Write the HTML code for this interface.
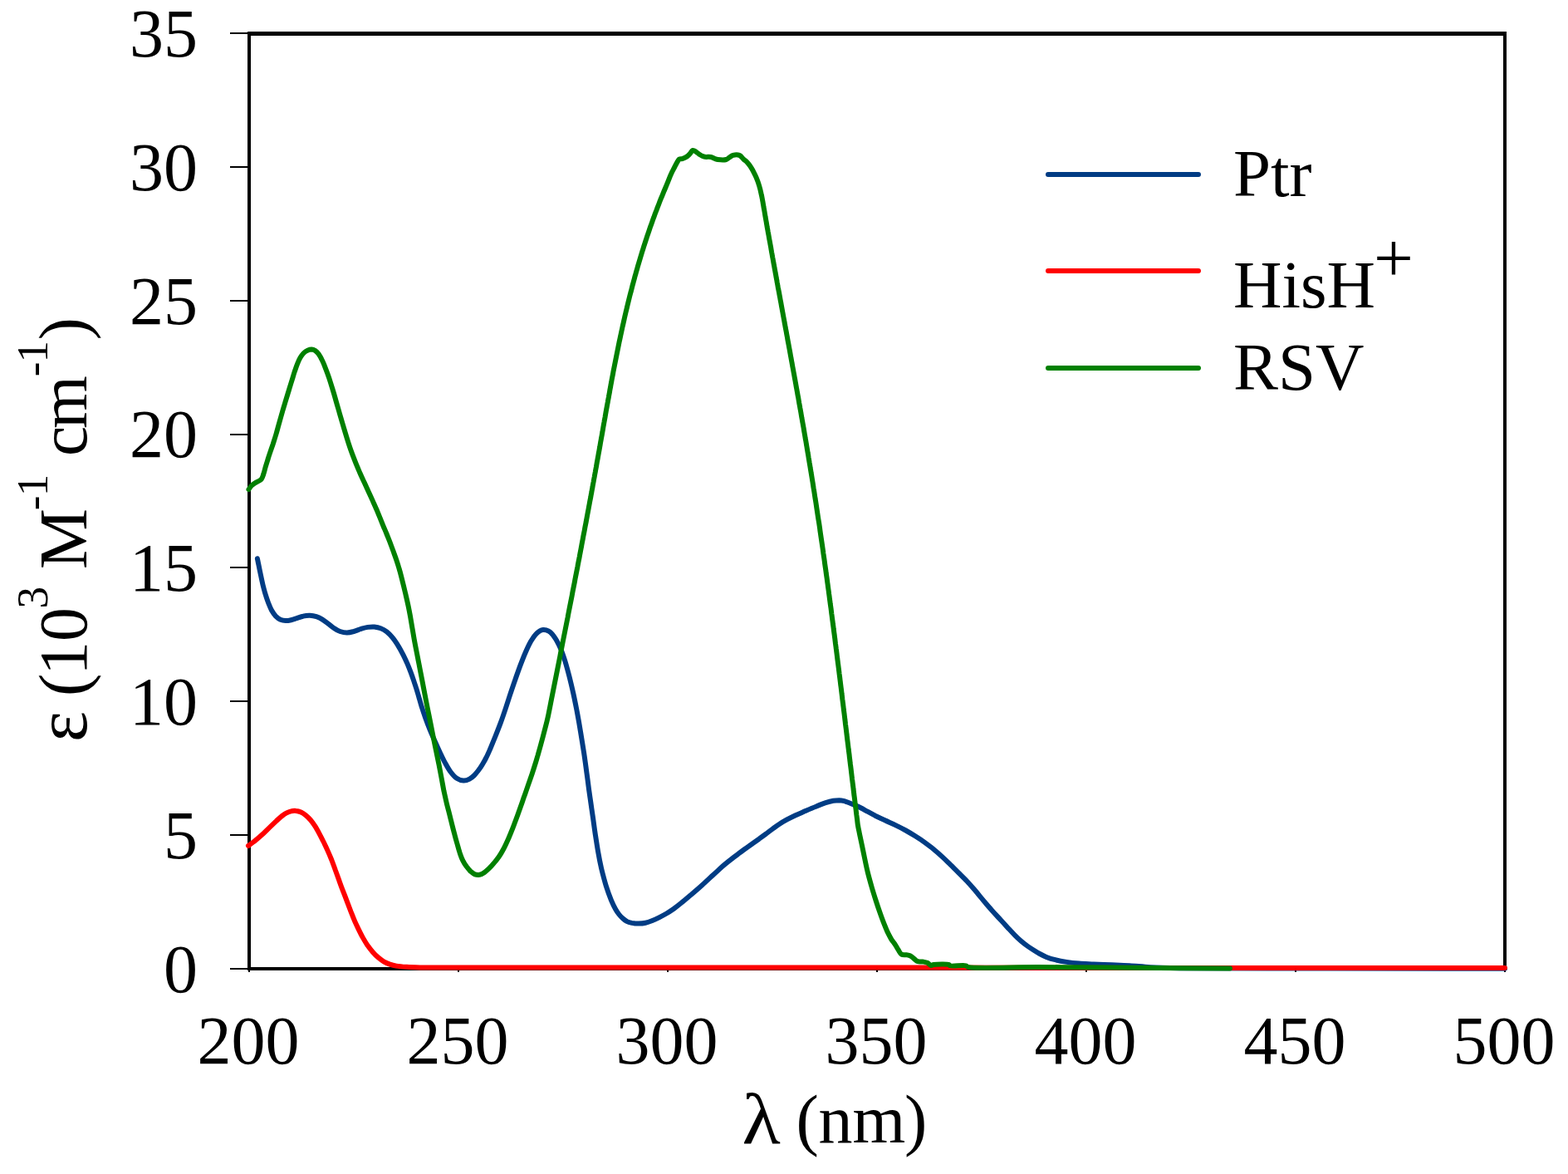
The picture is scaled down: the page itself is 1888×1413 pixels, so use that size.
<!DOCTYPE html>
<html><head><meta charset="utf-8"><style>
html,body{margin:0;padding:0;background:#fff;}
svg{display:block;}
</style></head><body>
<svg width="1888" height="1413" viewBox="0 0 1888 1413">
<rect width="1888" height="1413" fill="#fff"/>
<!-- frame -->
<rect x="298" y="38" width="1516" height="5" fill="#000"/>
<rect x="298" y="38" width="4" height="1130" fill="#000"/>
<rect x="1810" y="38" width="4" height="1130" fill="#000"/>
<rect x="298" y="1164" width="1516" height="4" fill="#000"/>
<rect x="277" y="1165" width="23" height="2" fill="#000"/>
<rect x="277" y="1004" width="23" height="2" fill="#000"/>
<rect x="277" y="843" width="23" height="2" fill="#000"/>
<rect x="277" y="682" width="23" height="2" fill="#000"/>
<rect x="277" y="522" width="23" height="2" fill="#000"/>
<rect x="277" y="361" width="23" height="2" fill="#000"/>
<rect x="277" y="200" width="23" height="2" fill="#000"/>
<rect x="277" y="39" width="23" height="2" fill="#000"/>
<rect x="299.0" y="1164" width="2" height="6" fill="#000"/>
<rect x="551.0" y="1164" width="2" height="6" fill="#000"/>
<rect x="803.0" y="1164" width="2" height="6" fill="#000"/>
<rect x="1055.0" y="1164" width="2" height="6" fill="#000"/>
<rect x="1307.0" y="1164" width="2" height="6" fill="#000"/>
<rect x="1559.0" y="1164" width="2" height="6" fill="#000"/>
<rect x="1811.0" y="1164" width="2" height="6" fill="#000"/>
<text x="238" y="1193.6" text-anchor="end" font-family="Liberation Serif, Times New Roman, serif" font-size="82">0</text>
<text x="238" y="1032.8" text-anchor="end" font-family="Liberation Serif, Times New Roman, serif" font-size="82">5</text>
<text x="238" y="872.0" text-anchor="end" font-family="Liberation Serif, Times New Roman, serif" font-size="82">10</text>
<text x="238" y="711.2" text-anchor="end" font-family="Liberation Serif, Times New Roman, serif" font-size="82">15</text>
<text x="238" y="550.4" text-anchor="end" font-family="Liberation Serif, Times New Roman, serif" font-size="82">20</text>
<text x="238" y="389.6" text-anchor="end" font-family="Liberation Serif, Times New Roman, serif" font-size="82">25</text>
<text x="238" y="228.8" text-anchor="end" font-family="Liberation Serif, Times New Roman, serif" font-size="82">30</text>
<text x="238" y="68.0" text-anchor="end" font-family="Liberation Serif, Times New Roman, serif" font-size="82">35</text>
<text x="299.0" y="1280" text-anchor="middle" font-family="Liberation Serif, Times New Roman, serif" font-size="82">200</text>
<text x="551.0" y="1280" text-anchor="middle" font-family="Liberation Serif, Times New Roman, serif" font-size="82">250</text>
<text x="803.0" y="1280" text-anchor="middle" font-family="Liberation Serif, Times New Roman, serif" font-size="82">300</text>
<text x="1055.0" y="1280" text-anchor="middle" font-family="Liberation Serif, Times New Roman, serif" font-size="82">350</text>
<text x="1307.0" y="1280" text-anchor="middle" font-family="Liberation Serif, Times New Roman, serif" font-size="82">400</text>
<text x="1559.0" y="1280" text-anchor="middle" font-family="Liberation Serif, Times New Roman, serif" font-size="82">450</text>
<text x="1811.0" y="1280" text-anchor="middle" font-family="Liberation Serif, Times New Roman, serif" font-size="82">500</text>
<text transform="translate(893.5,1376) scale(1.11,1)" font-family="Liberation Serif, Times New Roman, serif" font-size="86">λ</text>
<text y="1375" font-family="Liberation Serif, Times New Roman, serif" font-size="82"><tspan x="958.5">(</tspan><tspan x="985.5">nm</tspan><tspan x="1089">)</tspan></text>
<text transform="translate(104,890) rotate(-90)" font-family="Liberation Serif, Times New Roman, serif" font-size="82"><tspan x="-3" y="0" font-size="88">ε</tspan> <tspan x="51.9" y="0">(</tspan><tspan x="77.2" y="0">1</tspan><tspan x="117.9" y="0">0</tspan><tspan x="157.4" y="-47" font-size="53">3</tspan> <tspan x="205" y="0">M</tspan><tspan x="275.7" y="-45.7" font-size="53">-</tspan><tspan x="292.8" y="-47" font-size="53">1</tspan> <tspan x="341" y="0">c</tspan><tspan x="374" y="0">m</tspan><tspan x="436.8" y="-45.7" font-size="53">-</tspan><tspan x="453.5" y="-47" font-size="53">1</tspan><tspan x="480.5" y="0">)</tspan></text>
<!-- curves -->
<g fill="none" stroke-width="6" stroke-linejoin="round" stroke-linecap="round">
<path d="M309.9,672.3 C310.4,674.8 310.8,676.9 311.4,679.7 C312.1,683.3 313.0,687.8 313.9,691.9 C314.7,695.8 315.6,699.9 316.5,703.8 C317.4,707.5 318.4,711.1 319.4,714.7 C320.5,718.2 321.6,721.7 322.9,725.0 C324.2,728.3 325.4,731.6 327.0,734.5 C328.5,737.1 330.1,739.6 332.0,741.6 C333.7,743.3 335.6,744.8 337.7,745.8 C339.6,746.6 341.7,747.0 343.9,747.1 C346.0,747.2 348.3,746.7 350.5,746.2 C352.8,745.7 355.1,744.8 357.5,744.0 C359.9,743.3 362.3,742.2 364.9,741.7 C367.5,741.1 370.4,740.7 373.1,740.8 C375.7,740.9 378.5,741.4 381.0,742.2 C383.5,743.0 385.9,744.2 388.2,745.6 C390.6,747.1 392.8,749.0 395.1,750.7 C397.4,752.4 399.7,754.5 402.1,756.0 C404.4,757.6 406.9,759.1 409.5,760.0 C412.1,760.9 414.9,761.5 417.7,761.5 C420.4,761.4 423.3,760.7 426.0,760.0 C428.8,759.2 431.6,757.9 434.4,757.0 C437.1,756.2 439.9,755.3 442.7,754.9 C445.4,754.5 448.1,754.3 450.7,754.5 C453.3,754.8 456.0,755.3 458.4,756.2 C461.0,757.2 463.4,758.6 465.7,760.4 C468.2,762.4 470.6,765.0 472.8,767.7 C475.2,770.6 477.4,774.0 479.5,777.3 C481.6,780.6 483.4,784.2 485.2,787.7 C487.0,791.2 488.6,794.7 490.2,798.2 C491.7,801.8 493.1,805.3 494.5,808.9 C495.8,812.4 497.1,816.1 498.3,819.6 C499.4,823.0 500.5,826.2 501.5,829.4 C502.5,832.6 503.3,835.5 504.3,838.8 C505.3,842.3 506.3,846.0 507.5,850.0 C508.9,854.3 510.4,859.0 512.1,863.7 C513.8,868.5 515.8,873.7 517.7,878.5 C519.6,883.2 521.7,887.8 523.7,892.3 C525.7,896.7 527.6,900.9 529.6,905.2 C531.6,909.4 533.6,913.8 535.8,917.9 C537.9,921.7 540.0,925.7 542.5,929.0 C544.8,932.0 547.2,935.0 550.0,936.8 C552.4,938.4 555.4,939.5 558.1,939.5 C560.5,939.6 563.2,938.7 565.3,937.6 C567.4,936.5 569.2,934.9 571.0,933.2 C572.8,931.5 574.4,929.4 576.0,927.3 C577.7,925.0 579.4,922.6 580.9,920.0 C582.5,917.4 584.0,914.8 585.4,911.9 C587.1,908.7 588.6,905.2 590.3,901.3 C592.2,896.8 594.3,891.5 596.4,886.4 C598.6,880.9 600.9,875.1 603.0,869.4 C605.1,863.8 607.0,858.1 608.9,852.4 C610.8,846.7 612.5,841.1 614.4,835.4 C616.3,829.8 618.2,824.1 620.2,818.5 C622.1,812.9 624.1,807.4 626.1,801.9 C628.1,796.6 630.1,791.3 632.3,786.2 C634.4,781.3 636.6,776.4 639.0,772.2 C641.3,768.5 643.6,764.6 646.3,762.2 C648.5,760.2 651.0,758.3 653.5,758.0 C655.8,757.6 658.5,758.4 660.7,759.7 C663.3,761.1 665.6,764.0 667.7,766.9 C670.2,770.2 672.3,774.6 674.3,779.0 C676.5,783.9 678.4,789.5 680.2,795.1 C682.1,801.2 683.8,807.7 685.5,814.2 C687.2,821.0 688.9,828.0 690.4,835.0 C692.0,842.2 693.4,849.5 694.9,857.1 C696.4,865.0 697.8,873.1 699.1,881.3 C700.5,889.7 701.9,898.4 703.2,906.8 C704.4,914.8 705.5,923.0 706.5,930.6 C707.5,937.5 708.3,944.1 709.1,950.4 C709.9,956.2 710.7,961.4 711.5,967.0 C712.3,972.8 713.1,978.4 714.0,984.3 C714.9,990.7 715.8,997.6 716.8,1004.3 C717.9,1011.1 718.9,1018.1 720.1,1025.0 C721.3,1031.9 722.6,1038.7 724.2,1045.6 C725.9,1052.5 727.8,1059.8 729.8,1066.3 C731.7,1072.3 733.9,1078.4 735.9,1083.3 C737.6,1087.3 739.2,1090.8 741.0,1093.9 C742.4,1096.4 743.7,1098.5 745.3,1100.5 C746.7,1102.3 748.2,1103.9 749.8,1105.3 C751.3,1106.7 752.8,1107.9 754.6,1108.9 C756.4,1109.8 758.6,1110.4 760.8,1110.9 C763.3,1111.4 766.2,1111.6 768.9,1111.6 C771.7,1111.6 774.5,1111.4 777.2,1110.8 C780.0,1110.2 782.8,1109.1 785.5,1108.0 C788.3,1106.9 791.2,1105.5 794.0,1104.1 C796.9,1102.6 799.7,1101.1 802.5,1099.5 C805.4,1097.8 808.1,1096.0 811.0,1094.0 C814.1,1091.7 817.3,1089.2 820.6,1086.5 C824.4,1083.5 828.5,1079.9 832.6,1076.5 C836.8,1072.8 841.2,1069.0 845.5,1065.2 C849.8,1061.4 854.1,1057.3 858.2,1053.5 C862.2,1049.9 866.2,1046.1 869.9,1042.8 C873.2,1039.9 876.4,1037.4 879.6,1034.8 C882.5,1032.5 885.4,1030.3 888.4,1028.2 C891.2,1026.0 894.1,1023.9 897.0,1021.8 C899.8,1019.7 902.7,1017.7 905.5,1015.7 C908.3,1013.7 911.2,1011.7 914.0,1009.7 C916.8,1007.6 919.7,1005.5 922.5,1003.5 C925.3,1001.3 928.2,999.1 931.0,997.1 C933.7,995.1 936.2,993.2 939.0,991.5 C941.6,989.8 944.2,988.3 947.1,986.7 C950.3,985.0 953.8,983.2 957.4,981.5 C961.3,979.7 965.6,977.9 969.7,976.1 C973.9,974.3 978.3,972.4 982.5,970.8 C986.5,969.1 990.5,967.4 994.2,966.2 C997.4,965.1 1000.6,964.2 1003.4,963.7 C1005.9,963.3 1008.1,963.2 1010.4,963.2 C1012.5,963.3 1014.5,963.7 1016.6,964.2 C1018.8,964.8 1020.9,965.7 1023.1,966.5 C1025.4,967.4 1027.6,968.3 1029.9,969.3 C1032.2,970.3 1034.5,971.3 1036.8,972.5 C1039.2,973.7 1041.6,975.2 1044.3,976.6 C1047.2,978.2 1050.4,980.0 1053.7,981.7 C1057.4,983.5 1061.5,985.4 1065.5,987.2 C1069.6,989.2 1074.0,991.0 1078.2,993.1 C1082.4,995.1 1086.6,997.3 1090.6,999.5 C1094.5,1001.7 1098.2,1003.9 1102.0,1006.3 C1105.7,1008.6 1109.4,1011.0 1113.0,1013.6 C1116.7,1016.3 1120.5,1019.1 1124.0,1022.0 C1127.6,1024.9 1131.0,1028.0 1134.4,1031.1 C1137.8,1034.1 1141.0,1037.4 1144.3,1040.6 C1147.7,1043.9 1151.1,1047.3 1154.4,1050.6 C1157.7,1053.9 1161.1,1057.2 1164.2,1060.5 C1167.1,1063.6 1169.8,1066.7 1172.5,1069.8 C1175.0,1072.7 1177.4,1075.6 1179.8,1078.6 C1182.3,1081.5 1184.7,1084.5 1187.2,1087.5 C1189.7,1090.4 1192.2,1093.3 1194.8,1096.2 C1197.3,1099.0 1199.9,1101.8 1202.3,1104.4 C1204.6,1106.9 1206.9,1109.3 1209.1,1111.7 C1211.2,1114.0 1213.2,1116.3 1215.3,1118.6 C1217.5,1121.0 1219.8,1123.5 1222.2,1125.9 C1224.5,1128.3 1227.1,1130.6 1229.6,1132.8 C1232.0,1134.9 1234.5,1136.8 1237.1,1138.6 C1239.5,1140.3 1242.0,1141.9 1244.5,1143.5 C1247.0,1145.1 1249.4,1146.6 1252.0,1148.0 C1254.6,1149.4 1257.1,1150.7 1260.0,1151.9 C1263.3,1153.2 1266.8,1154.3 1270.6,1155.2 C1274.9,1156.3 1279.7,1157.2 1284.4,1157.9 C1289.3,1158.6 1294.1,1159.1 1299.3,1159.5 C1304.9,1160.0 1310.8,1160.1 1316.9,1160.4 C1323.8,1160.7 1331.4,1161.0 1338.5,1161.2 C1345.7,1161.5 1352.6,1161.7 1360.0,1162.2 C1368.0,1162.7 1376.0,1163.7 1385.0,1164.2 C1395.7,1164.8 1403.8,1165.0 1420.0,1165.3 C1456.7,1165.9 1537.5,1165.5 1600.0,1165.6 C1667.8,1165.7 1741.3,1165.7 1812.0,1165.8" stroke="#003C84"/>
<path d="M299.0,1018.0 C301.0,1016.5 303.0,1015.0 304.9,1013.5 C306.6,1012.2 308.2,1010.9 309.9,1009.6 C311.6,1008.1 313.3,1006.7 315.1,1005.1 C317.0,1003.4 318.9,1001.5 320.8,999.6 C322.7,997.7 324.7,995.7 326.7,993.8 C328.7,991.9 330.7,990.0 332.7,988.1 C334.6,986.3 336.6,984.4 338.6,982.8 C340.6,981.3 342.5,979.8 344.6,978.7 C346.5,977.7 348.5,976.8 350.5,976.4 C352.4,975.9 354.5,975.7 356.4,975.9 C358.4,976.0 360.5,976.6 362.4,977.5 C364.4,978.4 366.4,979.8 368.3,981.3 C370.3,982.9 372.2,984.9 374.0,987.0 C375.9,989.2 377.6,991.7 379.2,994.2 C381.0,996.9 382.6,999.9 384.2,1002.9 C385.9,1006.0 387.5,1009.2 389.2,1012.5 C390.9,1015.9 392.5,1019.3 394.1,1022.9 C395.8,1026.7 397.5,1030.6 399.1,1034.5 C400.7,1038.7 402.3,1042.9 403.8,1047.2 C405.4,1051.4 406.8,1055.7 408.4,1059.9 C409.9,1064.2 411.4,1068.4 413.1,1072.6 C414.7,1076.8 416.4,1081.1 418.0,1085.3 C419.6,1089.5 421.2,1093.7 422.7,1097.7 C424.2,1101.5 425.6,1105.1 427.1,1108.7 C428.6,1112.1 430.2,1115.3 431.8,1118.6 C433.4,1121.9 435.0,1125.2 436.8,1128.4 C438.6,1131.6 440.5,1134.8 442.5,1137.8 C444.5,1140.6 446.7,1143.4 448.9,1145.9 C451.0,1148.3 453.1,1150.5 455.4,1152.4 C457.6,1154.2 459.7,1155.9 462.1,1157.3 C464.4,1158.6 466.9,1159.7 469.4,1160.6 C472.0,1161.5 474.4,1162.1 477.4,1162.6 C481.0,1163.2 485.2,1163.5 489.6,1163.8 C494.6,1164.1 497.5,1164.2 505.9,1164.4 C535.0,1164.9 623.7,1164.5 700.0,1164.5 C809.5,1164.5 976.2,1164.5 1100.0,1164.6 C1207.2,1164.7 1292.1,1164.9 1400.0,1165.0 C1526.5,1165.1 1674.7,1165.0 1812.0,1165.0" stroke="#FF0000"/>
<path d="M299.5,589.0 C300.6,587.5 301.6,585.8 302.9,584.5 C304.1,583.3 305.5,582.4 306.9,581.5 C308.3,580.6 310.0,580.0 311.4,579.1 C312.6,578.3 313.9,577.8 314.8,576.6 C316.0,575.1 316.5,572.8 317.3,570.6 C318.2,567.9 318.9,564.7 319.8,561.7 C320.7,558.5 321.8,555.2 322.8,552.0 C323.7,549.0 324.7,546.1 325.7,543.1 C326.7,540.2 327.7,537.4 328.8,534.2 C329.9,530.7 331.1,527.0 332.3,523.0 C333.6,518.7 334.8,513.9 336.1,509.4 C337.4,504.7 338.8,499.9 340.1,495.2 C341.4,490.7 342.8,486.2 344.1,481.9 C345.4,477.7 346.7,473.5 347.9,469.5 C349.1,465.6 350.2,461.8 351.4,458.1 C352.5,454.6 353.5,451.1 354.6,447.7 C355.7,444.5 356.7,441.2 357.9,438.3 C359.0,435.5 360.1,432.8 361.5,430.5 C362.8,428.4 364.1,426.5 365.6,425.0 C367.0,423.6 368.7,422.5 370.3,421.8 C371.9,421.1 373.6,420.6 375.2,420.6 C376.7,420.7 378.3,421.3 379.7,422.1 C381.3,423.1 382.6,424.7 383.9,426.4 C385.2,428.2 386.3,430.3 387.4,432.6 C388.7,435.0 389.7,437.6 390.8,440.3 C392.0,443.3 393.2,446.4 394.3,449.6 C395.5,452.9 396.7,456.4 397.8,459.8 C398.9,463.3 400.0,466.9 401.1,470.5 C402.2,474.2 403.3,477.9 404.3,481.6 C405.4,485.4 406.5,489.2 407.6,493.0 C408.6,496.7 409.7,500.5 410.8,504.2 C411.9,507.9 413.0,511.6 414.1,515.3 C415.2,519.1 416.3,522.7 417.5,526.7 C418.8,531.1 420.3,535.7 421.9,540.3 C423.7,545.4 425.9,551.1 427.9,556.2 C429.7,560.8 431.7,565.3 433.5,569.5 C435.2,573.4 436.9,576.9 438.6,580.6 C440.3,584.3 442.0,588.0 443.7,591.7 C445.4,595.3 447.1,599.0 448.7,602.6 C450.3,606.2 451.9,609.7 453.4,613.2 C454.8,616.7 456.2,620.1 457.6,623.4 C458.9,626.7 460.2,629.9 461.5,633.1 C462.8,636.2 464.2,639.3 465.5,642.5 C466.8,645.8 468.2,649.1 469.5,652.5 C470.8,655.9 472.1,659.5 473.4,663.1 C474.7,666.7 476.1,670.4 477.3,674.0 C478.5,677.5 479.6,681.0 480.6,684.5 C481.6,687.7 482.4,690.7 483.2,694.0 C484.0,697.2 484.8,700.4 485.7,703.9 C486.6,707.7 487.6,711.9 488.6,716.0 C489.6,720.4 490.7,725.0 491.6,729.4 C492.5,733.7 493.3,738.0 494.1,742.2 C494.8,746.4 495.5,750.5 496.2,754.7 C496.9,758.8 497.6,762.9 498.3,767.0 C499.0,771.2 499.8,775.3 500.6,779.4 C501.4,783.6 502.3,787.9 503.1,792.1 C503.9,796.4 504.8,800.6 505.6,805.0 C506.5,809.5 507.4,814.1 508.3,818.9 C509.3,824.1 510.3,829.5 511.4,835.1 C512.5,840.9 513.7,847.0 514.9,853.0 C516.1,858.9 517.3,864.9 518.5,870.8 C519.6,876.5 520.7,882.0 521.8,887.6 C522.9,893.2 524.1,898.7 525.2,904.2 C526.3,909.7 527.5,915.2 528.6,920.6 C529.6,925.9 530.6,931.2 531.6,936.5 C532.6,941.7 533.5,947.0 534.5,952.2 C535.6,957.1 536.7,962.0 537.8,966.8 C538.9,971.3 540.1,975.8 541.2,980.1 C542.2,984.3 543.3,988.4 544.3,992.5 C545.3,996.5 546.3,1000.5 547.4,1004.4 C548.4,1008.3 549.5,1012.3 550.6,1016.0 C551.6,1019.7 552.6,1023.3 553.7,1026.7 C554.8,1029.8 555.8,1032.9 557.2,1035.6 C558.5,1038.2 560.0,1040.6 561.6,1042.8 C563.2,1044.9 564.8,1047.0 566.6,1048.7 C568.2,1050.1 569.9,1051.7 571.8,1052.4 C573.5,1053.0 575.6,1053.1 577.5,1052.8 C579.5,1052.4 581.5,1051.2 583.4,1049.9 C585.5,1048.5 587.4,1046.6 589.4,1044.7 C591.4,1042.7 593.4,1040.4 595.3,1038.1 C597.3,1035.8 599.2,1033.3 601.0,1030.7 C602.9,1028.0 604.6,1025.0 606.2,1022.0 C607.9,1018.9 609.4,1015.6 610.9,1012.3 C612.4,1009.1 613.8,1005.7 615.1,1002.4 C616.5,999.0 617.8,995.7 619.1,992.2 C620.4,988.7 621.8,985.2 623.1,981.6 C624.4,977.9 625.7,974.2 627.0,970.5 C628.4,966.7 629.6,963.0 631.0,959.1 C632.5,954.8 634.1,950.4 635.6,945.9 C637.3,941.1 639.1,935.9 640.7,931.2 C642.1,927.0 643.4,922.9 644.6,919.0 C645.7,915.5 646.6,912.3 647.6,909.0 C648.5,905.7 649.4,902.5 650.4,899.0 C651.5,895.1 652.6,890.8 653.8,886.5 C655.0,881.9 656.4,876.6 657.5,872.3 C658.4,868.9 659.1,865.6 659.8,862.8 C660.3,860.6 660.6,858.8 661.0,856.8 C661.4,854.8 661.8,852.8 662.2,850.8 C662.6,848.7 663.0,846.7 663.4,844.7 C663.8,842.7 664.2,840.7 664.6,838.7 C665.0,836.7 665.4,834.7 665.8,832.7 C666.2,830.7 666.6,828.7 667.0,826.7 C667.4,824.7 667.8,822.7 668.2,820.7 C668.6,818.7 669.0,816.7 669.4,814.7 C669.8,812.7 670.2,810.6 670.6,808.6 C671.0,806.6 671.4,804.6 671.8,802.6 C672.2,800.6 672.6,798.6 673.0,796.6 C673.4,794.6 673.8,792.6 674.2,790.6 C674.6,788.6 674.9,786.6 675.3,784.6 C675.7,782.6 676.1,780.6 676.5,778.6 C676.9,776.6 677.3,774.6 677.7,772.5 C678.1,770.5 678.5,768.5 678.9,766.5 C679.3,764.5 679.7,762.5 680.1,760.5 C680.5,758.5 680.9,756.5 681.3,754.5 C681.7,752.5 682.1,750.5 682.5,748.5 C682.9,746.5 683.3,744.5 683.7,742.5 C684.0,740.5 684.4,738.5 684.8,736.5 C685.2,734.4 685.6,732.4 686.0,730.4 C686.4,728.4 686.8,726.4 687.2,724.4 C687.6,722.4 688.0,720.4 688.4,718.4 C688.8,716.4 689.1,714.4 689.5,712.4 C689.9,710.4 690.3,708.4 690.7,706.4 C691.1,704.4 691.5,702.4 691.9,700.4 C692.3,698.3 692.6,696.3 693.0,694.3 C693.4,692.3 693.8,690.3 694.2,688.3 C694.6,686.3 695.0,684.3 695.4,682.3 C695.7,680.3 696.1,678.3 696.5,676.3 C696.9,674.3 697.3,672.3 697.7,670.3 C698.0,668.3 698.4,666.3 698.8,664.3 C699.2,662.3 699.6,660.2 700.0,658.2 C700.3,656.2 700.7,654.2 701.1,652.2 C701.5,650.2 701.9,648.2 702.2,646.2 C702.6,644.2 703.0,642.2 703.4,640.2 C703.8,638.2 704.1,636.2 704.5,634.2 C704.9,632.2 705.3,630.2 705.7,628.2 C706.0,626.2 706.4,624.2 706.8,622.1 C707.2,620.1 707.5,618.1 707.9,616.1 C708.3,614.1 708.7,612.1 709.0,610.1 C709.4,608.1 709.8,606.1 710.1,604.1 C710.5,602.1 710.9,600.1 711.3,598.1 C711.6,596.1 712.0,594.1 712.4,592.1 C712.7,590.1 713.1,588.1 713.5,586.1 C713.8,584.0 714.2,582.0 714.6,580.0 C714.9,578.0 715.3,576.0 715.7,574.0 C716.0,572.0 716.4,570.0 716.8,568.0 C717.1,566.0 717.5,564.0 717.9,562.0 C718.2,560.0 718.6,558.0 718.9,556.0 C719.3,554.0 719.7,552.0 720.0,550.0 C720.4,548.0 720.7,545.9 721.1,543.9 C721.5,541.9 721.8,539.9 722.2,537.9 C722.5,535.9 722.9,533.9 723.2,531.9 C723.6,529.9 723.9,527.9 724.3,525.9 C724.7,523.9 725.0,521.9 725.4,519.9 C725.7,517.9 726.1,515.9 726.4,513.9 C726.8,511.9 727.1,509.9 727.5,507.8 C727.8,505.8 728.2,503.8 728.6,501.8 C728.9,499.8 729.3,497.8 729.6,495.8 C730.0,493.8 730.3,491.8 730.7,489.8 C731.1,487.8 731.4,485.8 731.8,483.8 C732.1,481.8 732.5,479.8 732.9,477.8 C733.2,475.8 733.6,473.8 734.0,471.8 C734.3,469.7 734.7,467.7 735.1,465.7 C735.4,463.7 735.8,461.7 736.2,459.7 C736.5,457.7 736.9,455.7 737.3,453.7 C737.7,451.7 738.1,449.7 738.4,447.7 C738.8,445.7 739.2,443.7 739.6,441.7 C740.0,439.7 740.4,437.7 740.8,435.7 C741.2,433.7 741.6,431.6 742.0,429.6 C742.4,427.6 742.8,425.6 743.2,423.6 C743.6,421.6 744.0,419.6 744.4,417.6 C744.8,415.6 745.2,413.6 745.6,411.6 C746.1,409.6 746.5,407.6 746.9,405.6 C747.3,403.6 747.8,401.6 748.2,399.6 C748.6,397.6 749.1,395.5 749.5,393.5 C750.0,391.5 750.4,389.5 750.9,387.5 C751.3,385.5 751.8,383.5 752.2,381.5 C752.7,379.5 753.2,377.5 753.6,375.5 C754.1,373.5 754.6,371.5 755.1,369.5 C755.5,367.5 756.0,365.5 756.5,363.5 C757.0,361.5 757.5,359.5 758.0,357.4 C758.5,355.4 759.0,353.4 759.6,351.4 C760.1,349.4 760.6,347.4 761.1,345.4 C761.6,343.4 762.2,341.4 762.7,339.4 C763.3,337.4 763.8,335.4 764.3,333.4 C764.9,331.4 765.5,329.4 766.0,327.4 C766.6,325.4 767.2,323.4 767.7,321.4 C768.3,319.3 768.9,317.3 769.5,315.3 C770.1,313.3 770.7,311.3 771.3,309.3 C771.9,307.3 772.5,305.3 773.1,303.3 C773.8,301.3 774.4,299.3 775.0,297.3 C775.7,295.3 776.3,293.3 777.0,291.3 C777.6,289.3 778.3,287.3 778.9,285.3 C779.6,283.3 780.3,281.2 781.0,279.2 C781.7,277.2 782.3,275.2 783.0,273.2 C783.8,271.2 784.5,269.2 785.2,267.2 C785.9,265.2 786.6,263.2 787.4,261.2 C788.1,259.2 788.8,257.2 789.6,255.2 C790.4,253.2 791.1,251.2 791.9,249.2 C792.7,247.2 793.5,245.2 794.2,243.1 C795.0,241.1 795.8,239.1 796.7,237.1 C797.5,235.1 798.3,233.1 799.1,231.1 C800.0,229.1 800.8,227.1 801.7,225.0 C802.5,222.9 803.4,220.8 804.2,218.8 C805.0,216.8 805.8,214.8 806.6,212.8 C807.4,211.0 808.2,209.2 809.0,207.4 C809.8,205.8 810.7,204.2 811.5,202.7 C812.2,201.2 813.0,199.7 813.7,198.3 C814.4,197.0 815.1,195.7 815.8,194.5 C816.5,193.4 817.0,192.1 817.9,191.5 C818.8,191.0 820.2,191.4 821.3,191.1 C822.5,190.8 823.6,190.3 824.7,189.8 C825.9,189.2 827.0,188.5 828.1,187.7 C829.2,186.8 830.1,185.8 831.1,184.7 C832.1,183.5 832.9,181.2 834.0,180.9 C834.8,180.7 835.7,181.4 836.6,181.8 C837.6,182.3 838.6,183.2 839.6,183.9 C840.6,184.6 841.6,185.4 842.5,186.0 C843.4,186.6 844.0,187.1 845.0,187.5 C846.2,188.0 847.5,188.5 849.0,188.8 C851.0,189.1 853.8,188.6 855.9,189.0 C857.8,189.4 859.5,190.6 861.0,191.1 C862.2,191.5 862.8,191.8 864.2,192.0 C866.6,192.3 871.9,192.7 874.4,192.0 C876.1,191.5 876.9,190.3 878.2,189.5 C879.6,188.6 880.9,187.4 882.6,186.9 C884.7,186.3 888.1,186.0 890.3,186.9 C892.4,187.7 893.8,190.3 895.4,191.7 C896.7,192.9 898.0,193.7 899.2,194.9 C900.5,196.2 901.8,197.8 903.0,199.5 C904.3,201.4 905.6,203.6 906.8,205.8 C908.1,208.3 909.4,210.8 910.6,213.6 C911.9,216.7 913.2,220.2 914.2,223.7 C915.3,227.3 916.2,231.4 916.9,234.8 C917.6,237.8 918.0,240.5 918.5,243.0 C918.8,245.2 919.2,247.1 919.5,249.1 C919.9,251.1 920.2,253.1 920.6,255.1 C920.9,257.1 921.3,259.2 921.6,261.2 C922.0,263.2 922.3,265.2 922.7,267.2 C923.0,269.2 923.4,271.2 923.7,273.3 C924.1,275.3 924.5,277.3 924.8,279.3 C925.2,281.3 925.5,283.3 925.9,285.3 C926.2,287.4 926.6,289.4 927.0,291.4 C927.3,293.4 927.7,295.4 928.1,297.4 C928.4,299.5 928.8,301.5 929.1,303.5 C929.5,305.5 929.9,307.5 930.2,309.5 C930.6,311.5 931.0,313.6 931.3,315.6 C931.7,317.6 932.1,319.6 932.4,321.6 C932.8,323.6 933.2,325.6 933.5,327.7 C933.9,329.7 934.3,331.7 934.6,333.7 C935.0,335.7 935.4,337.7 935.7,339.7 C936.1,341.8 936.5,343.8 936.8,345.8 C937.2,347.8 937.6,349.8 938.0,351.8 C938.3,353.8 938.7,355.9 939.1,357.9 C939.4,359.9 939.8,361.9 940.2,363.9 C940.6,365.9 940.9,367.9 941.3,370.0 C941.7,372.0 942.0,374.0 942.4,376.0 C942.8,378.0 943.1,380.0 943.5,382.0 C943.9,384.1 944.3,386.1 944.6,388.1 C945.0,390.1 945.4,392.1 945.7,394.1 C946.1,396.1 946.5,398.2 946.9,400.2 C947.2,402.2 947.6,404.2 948.0,406.2 C948.3,408.2 948.7,410.3 949.1,412.3 C949.5,414.3 949.8,416.3 950.2,418.3 C950.6,420.3 950.9,422.3 951.3,424.4 C951.7,426.4 952.0,428.4 952.4,430.4 C952.8,432.4 953.1,434.4 953.5,436.4 C953.9,438.5 954.2,440.5 954.6,442.5 C955.0,444.5 955.3,446.5 955.7,448.5 C956.1,450.5 956.4,452.6 956.8,454.6 C957.2,456.6 957.5,458.6 957.9,460.6 C958.3,462.6 958.6,464.6 959.0,466.7 C959.4,468.7 959.7,470.7 960.1,472.7 C960.4,474.7 960.8,476.7 961.2,478.7 C961.5,480.8 961.9,482.8 962.2,484.8 C962.6,486.8 963.0,488.8 963.3,490.8 C963.7,492.8 964.0,494.9 964.4,496.9 C964.7,498.9 965.1,500.9 965.4,502.9 C965.8,504.9 966.1,506.9 966.5,509.0 C966.9,511.0 967.2,513.0 967.6,515.0 C967.9,517.0 968.2,519.0 968.6,521.1 C968.9,523.1 969.3,525.1 969.6,527.1 C970.0,529.1 970.3,531.1 970.7,533.1 C971.0,535.2 971.4,537.2 971.7,539.2 C972.0,541.2 972.4,543.2 972.7,545.2 C973.1,547.2 973.4,549.3 973.7,551.3 C974.1,553.3 974.4,555.3 974.7,557.3 C975.1,559.3 975.4,561.3 975.7,563.4 C976.1,565.4 976.4,567.4 976.7,569.4 C977.1,571.4 977.4,573.4 977.7,575.4 C978.0,577.5 978.4,579.5 978.7,581.5 C979.0,583.5 979.3,585.5 979.6,587.5 C980.0,589.5 980.3,591.6 980.6,593.6 C980.9,595.6 981.2,597.6 981.5,599.6 C981.9,601.6 982.2,603.6 982.5,605.7 C982.8,607.7 983.1,609.7 983.4,611.7 C983.7,613.7 984.0,615.7 984.3,617.8 C984.6,619.8 984.9,621.8 985.2,623.8 C985.5,625.8 985.9,627.8 986.2,629.8 C986.5,631.9 986.8,633.9 987.1,635.9 C987.3,637.9 987.6,639.9 987.9,641.9 C988.2,643.9 988.5,646.0 988.8,648.0 C989.1,650.0 989.4,652.0 989.7,654.0 C990.0,656.0 990.3,658.0 990.6,660.1 C990.9,662.1 991.2,664.1 991.4,666.1 C991.7,668.1 992.0,670.1 992.3,672.1 C992.6,674.2 992.9,676.2 993.1,678.2 C993.4,680.2 993.7,682.2 994.0,684.2 C994.3,686.2 994.6,688.3 994.8,690.3 C995.1,692.3 995.4,694.3 995.7,696.3 C995.9,698.3 996.2,700.3 996.5,702.4 C996.8,704.4 997.0,706.4 997.3,708.4 C997.6,710.4 997.9,712.4 998.1,714.4 C998.4,716.5 998.7,718.5 998.9,720.5 C999.2,722.5 999.5,724.5 999.7,726.5 C1000.0,728.6 1000.3,730.6 1000.6,732.6 C1000.8,734.6 1001.1,736.6 1001.3,738.6 C1001.6,740.6 1001.9,742.7 1002.1,744.7 C1002.4,746.7 1002.7,748.7 1002.9,750.7 C1003.2,752.7 1003.5,754.7 1003.7,756.8 C1004.0,758.8 1004.2,760.8 1004.5,762.8 C1004.8,764.8 1005.0,766.8 1005.3,768.8 C1005.5,770.9 1005.8,772.9 1006.0,774.9 C1006.3,776.9 1006.6,778.9 1006.8,780.9 C1007.1,782.9 1007.3,785.0 1007.6,787.0 C1007.8,789.0 1008.1,791.0 1008.3,793.0 C1008.6,795.0 1008.8,797.0 1009.1,799.1 C1009.4,801.1 1009.6,803.1 1009.9,805.1 C1010.1,807.1 1010.4,809.1 1010.6,811.1 C1010.9,813.2 1011.1,815.2 1011.4,817.2 C1011.6,819.2 1011.9,821.2 1012.1,823.2 C1012.4,825.2 1012.6,827.3 1012.9,829.3 C1013.1,831.3 1013.4,833.3 1013.6,835.3 C1013.9,837.3 1014.1,839.4 1014.3,841.4 C1014.6,843.4 1014.8,845.4 1015.1,847.4 C1015.3,849.4 1015.6,851.4 1015.8,853.5 C1016.1,855.5 1016.3,857.5 1016.6,859.5 C1016.8,861.5 1017.1,863.5 1017.3,865.5 C1017.6,867.6 1017.8,869.6 1018.0,871.6 C1018.3,873.6 1018.5,875.6 1018.8,877.6 C1019.0,879.6 1019.3,881.7 1019.5,883.7 C1019.8,885.7 1020.0,887.7 1020.2,889.7 C1020.5,891.7 1020.7,893.7 1021.0,895.8 C1021.2,897.8 1021.5,899.8 1021.7,901.8 C1022.0,903.8 1022.2,905.8 1022.5,907.8 C1022.7,909.9 1022.9,911.9 1023.2,913.9 C1023.4,915.9 1023.7,917.9 1023.9,919.9 C1024.2,921.9 1024.4,924.0 1024.7,926.0 C1024.9,928.0 1025.1,930.0 1025.4,932.0 C1025.6,934.0 1025.9,936.0 1026.1,938.1 C1026.4,940.1 1026.6,942.1 1026.9,944.1 C1027.1,946.1 1027.4,948.1 1027.6,950.2 C1027.9,952.2 1028.1,954.2 1028.3,956.2 C1028.6,958.2 1028.8,960.2 1029.1,962.2 C1029.3,964.3 1029.6,966.3 1029.8,968.3 C1030.1,970.3 1030.3,972.3 1030.6,974.3 C1030.8,976.3 1031.1,978.4 1031.3,980.4 C1031.6,982.4 1031.8,984.4 1032.1,986.4 C1032.3,988.4 1032.5,990.3 1032.8,992.5 C1033.2,995.1 1033.8,998.0 1034.5,1001.2 C1035.3,1005.4 1036.5,1010.5 1037.5,1015.5 C1038.6,1020.9 1039.8,1026.8 1041.0,1032.5 C1042.2,1038.2 1043.3,1043.8 1044.7,1049.5 C1046.1,1055.2 1047.7,1060.8 1049.3,1066.5 C1050.9,1072.2 1052.7,1077.9 1054.5,1083.5 C1056.2,1088.9 1058.1,1094.4 1059.9,1099.5 C1061.5,1104.0 1063.1,1108.4 1064.7,1112.4 C1066.1,1115.9 1067.4,1119.1 1068.8,1122.2 C1070.2,1125.0 1071.5,1127.6 1073.0,1130.1 C1074.5,1132.5 1076.3,1134.6 1077.8,1136.9 C1079.2,1139.0 1080.3,1141.2 1081.6,1143.2 C1082.8,1145.1 1083.7,1147.6 1085.4,1148.6 C1087.1,1149.6 1089.9,1148.9 1091.8,1149.3 C1093.4,1149.6 1094.8,1149.8 1096.2,1150.5 C1097.8,1151.3 1099.2,1152.9 1100.7,1154.0 C1102.2,1155.1 1103.4,1156.6 1105.1,1157.2 C1106.8,1157.8 1109.0,1157.2 1110.9,1157.5 C1112.8,1157.8 1114.9,1158.0 1116.6,1158.8 C1118.2,1159.5 1119.6,1161.8 1121.0,1162.0 C1122.1,1162.2 1122.7,1161.2 1124.2,1161.0 C1127.8,1160.5 1140.1,1160.0 1142.6,1161.0 C1143.4,1161.3 1143.1,1162.0 1143.9,1162.3 C1146.5,1163.4 1159.7,1161.3 1163.0,1162.3 C1164.3,1162.7 1164.0,1163.4 1165.5,1163.9 C1173.7,1166.3 1222.2,1163.9 1250.0,1164.0 C1277.0,1164.1 1299.1,1164.4 1330.0,1164.6 C1372.4,1164.9 1430.7,1165.2 1481.0,1165.5" stroke="#008000"/>
</g>
<!-- legend -->
<g stroke-width="6" stroke-linecap="round">
<line x1="1262" y1="210" x2="1443" y2="210" stroke="#003C84"/>
<line x1="1262" y1="326" x2="1443" y2="326" stroke="#FF0000"/>
<line x1="1262" y1="443" x2="1443" y2="443" stroke="#008000"/>
</g>
<text x="1485" y="236" font-family="Liberation Serif, Times New Roman, serif" font-size="81">Ptr</text>
<text x="1485" y="370" font-family="Liberation Serif, Times New Roman, serif" font-size="81">HisH</text>
<text x="1654" y="338.7" font-family="Liberation Serif, Times New Roman, serif" font-size="85">+</text>
<text x="1485" y="469" font-family="Liberation Serif, Times New Roman, serif" font-size="81">RSV</text>
</svg>
</body></html>
